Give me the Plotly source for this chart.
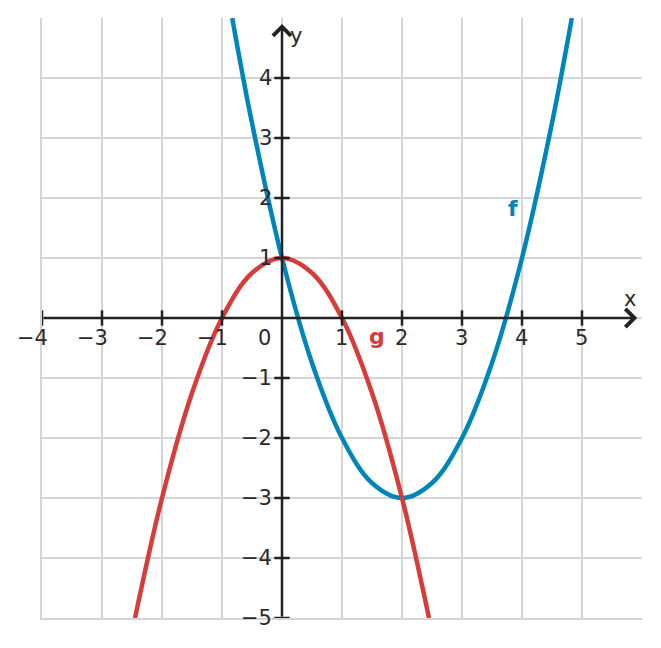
import plotly.graph_objects as go

# Curve f: points
f_x = [-0.83, -0.5, 0.0, 0.5, 1.0, 1.5, 2.0, 2.5, 3.0, 3.5, 4.0, 4.5, 4.83]
f_y = [5.0, 3.25, 1.0, -0.75, -2.0, -2.75, -3.0, -2.75, -2.0, -0.75, 1.0, 3.25, 5.0]

# Curve g: points
g_x = [-2.45, -2.0, -1.5, -1.0, -0.5, 0.0, 0.5, 1.0, 1.5, 2.0, 2.45]
g_y = [-5.0, -3.0, -1.25, 0.0, 0.75, 1.0, 0.75, 0.0, -1.25, -3.0, -5.0]

x_ticks = [-4, -3, -2, -1, 1, 2, 3, 4, 5]
x_tick_labels = ["−4", "−3", "−2", "−1", "1", "2", "3", "4", "5"]
y_ticks = [-5, -4, -3, -2, -1, 1, 2, 3, 4]
y_tick_labels = ["−5", "−4", "−3", "−2", "−1", "1", "2", "3", "4"]

x_range = [-4, 6]
y_range = [-5, 5]
x_arrow_end = 5.92
y_arrow_end = 4.9

BLUE = "#0085ba"
RED = "#d63c3a"
AXIS = "#222222"
LABEL = "#2a2a2a"
GRID = "#d5d5d5"
FONT = "DejaVu Sans"

fig = go.Figure()

fig.add_trace(go.Scatter(x=f_x, y=f_y, mode="lines", line=dict(color=BLUE, width=4.5, shape="spline"),
                         hoverinfo="skip", showlegend=False))
fig.add_trace(go.Scatter(x=g_x, y=g_y, mode="lines", line=dict(color=RED, width=4.5, shape="spline"),
                         hoverinfo="skip", showlegend=False))

# tick marks crossing the axes
fig.add_trace(go.Scatter(x=x_ticks, y=[0] * len(x_ticks), mode="markers",
                         marker=dict(symbol="line-ns", size=11, line=dict(color=AXIS, width=2.5)),
                         hoverinfo="skip", showlegend=False))
fig.add_trace(go.Scatter(x=[0] * len(y_ticks), y=y_ticks, mode="markers",
                         marker=dict(symbol="line-ew", size=11, line=dict(color=AXIS, width=2.5)),
                         hoverinfo="skip", showlegend=False))

annotations = []
# axis lines with arrows
annotations.append(dict(x=x_arrow_end, y=0, ax=x_range[0], ay=0, xref="x", yref="y", axref="x", ayref="y",
                        text="", showarrow=True, arrowhead=4, arrowsize=1.4, arrowwidth=2.5,
                        arrowcolor=AXIS, standoff=0, startstandoff=0))
annotations.append(dict(x=0, y=y_arrow_end, ax=0, ay=y_range[0], xref="x", yref="y", axref="x", ayref="y",
                        text="", showarrow=True, arrowhead=4, arrowsize=1.4, arrowwidth=2.5,
                        arrowcolor=AXIS, standoff=0, startstandoff=0))

for v, t in zip(x_ticks, x_tick_labels):
    annotations.append(dict(x=v, y=0, xref="x", yref="y", text=t, showarrow=False,
                            xanchor="right", yanchor="middle", xshift=8, yshift=-20,
                            font=dict(family=FONT, size=21, color=LABEL)))
for v, t in zip(y_ticks, y_tick_labels):
    annotations.append(dict(x=0, y=v, xref="x", yref="y", text=t, showarrow=False,
                            xanchor="right", yanchor="middle", xshift=-8, yshift=0,
                            font=dict(family=FONT, size=21, color=LABEL)))
annotations.append(dict(x=0, y=0, xref="x", yref="y", text="0", showarrow=False,
                        xanchor="right", yanchor="middle", xshift=-9, yshift=-20,
                        font=dict(family=FONT, size=21, color=LABEL)))

annotations.append(dict(x=5.8, y=0.32, xref="x", yref="y", text="x", showarrow=False,
                        font=dict(family=FONT, size=21, color=LABEL)))
annotations.append(dict(x=0.23, y=4.7, xref="x", yref="y", text="y", showarrow=False,
                        font=dict(family=FONT, size=21, color=LABEL)))

annotations.append(dict(x=3.85, y=1.83, xref="x", yref="y", text="<b>f</b>", showarrow=False,
                        font=dict(family=FONT, size=22, color=BLUE)))
annotations.append(dict(x=1.58, y=-0.3, xref="x", yref="y", text="<b>g</b>", showarrow=False,
                        font=dict(family=FONT, size=22, color=RED)))

fig.update_layout(
    width=645, height=632,
    margin=dict(l=34, r=11, t=10, b=22, pad=0),
    paper_bgcolor="white", plot_bgcolor="white",
    showlegend=False,
    annotations=annotations,
    xaxis=dict(range=x_range, tickvals=list(range(-4, 6)), showticklabels=False, ticks="",
               showgrid=True, gridcolor=GRID, gridwidth=2, zeroline=False,
               showline=True, linecolor=GRID, linewidth=2, mirror=False,
               fixedrange=True),
    yaxis=dict(range=y_range, tickvals=list(range(-5, 5)), showticklabels=False, ticks="",
               showgrid=True, gridcolor=GRID, gridwidth=2, zeroline=False,
               showline=True, linecolor=GRID, linewidth=2, mirror=False,
               fixedrange=True),
)

fig.write_html("out.html")
